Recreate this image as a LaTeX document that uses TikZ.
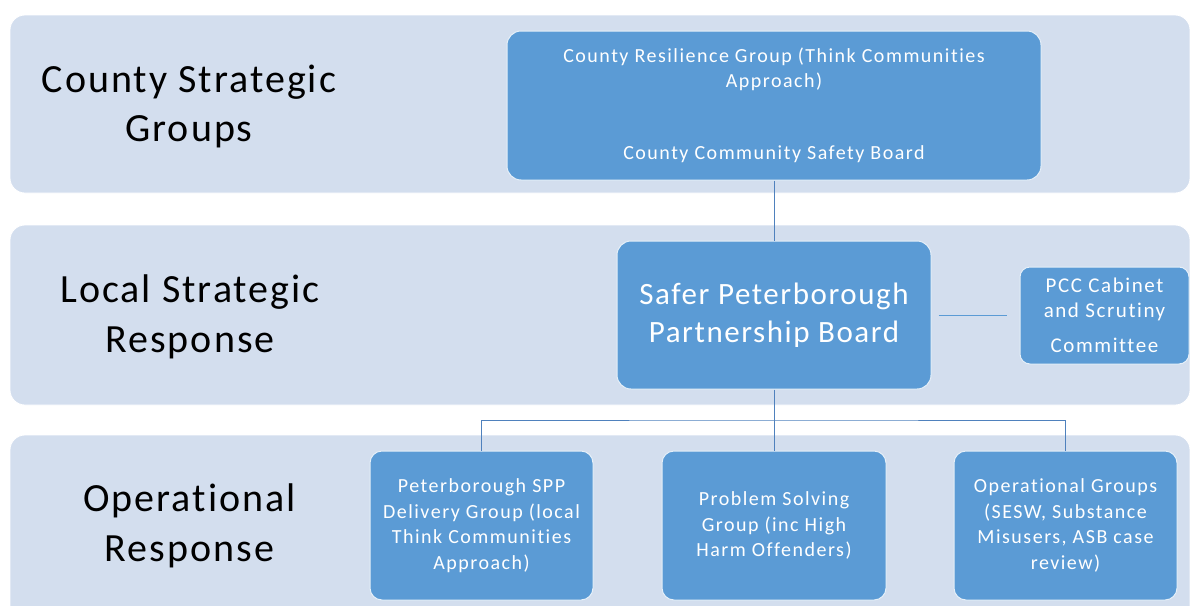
\documentclass[tikz,border=0pt]{standalone}
\usepackage{fontspec}
\setmainfont{Carlito}
\newfontfamily\bigf[LetterSpace=5,Ligatures=NoCommon]{Carlito}
\newfontfamily\smallf[LetterSpace=7.5,Ligatures=NoCommon]{Carlito}
\definecolor{bandfill}{RGB}{211,222,238}
\definecolor{boxfill}{RGB}{91,155,213}
\definecolor{linecol}{RGB}{79,129,189}
\begin{document}
\begin{tikzpicture}[x=1pt,y=-1pt,
  band/.style={draw=white, line width=0.8pt, fill=bandfill, rounded corners=15pt, inner sep=0pt},
  bandlabel/.style={align=center, text=black, font=\bigf\fontsize{40}{49.5}\selectfont, inner sep=0pt},
  orgbox/.style={draw=white!85!boxfill, line width=1pt, fill=boxfill, rounded corners=14pt, inner sep=0pt, text=white, align=center, font=\smallf\fontsize{20}{25.5}\selectfont},
  conn/.style={draw=linecol, line width=1pt}]
\useasboundingbox (0,0) rectangle (1190,605);
\clip (0,0) rectangle (1190,605);
% bands
\node[band, minimum width=1180pt, minimum height=178pt] (b1) at (600,104) {};
\node[band, minimum width=1180pt, minimum height=180pt] (b2) at (600,315) {};
\node[band, minimum width=1180pt, minimum height=190pt] (b3) at (600,530) {};
\node[bandlabel] (l1) at (189,106.5) {County Strategic\\Groups};
\node[bandlabel] (l2) at (190,317) {Local Strategic\\Response};
\node[bandlabel] (l3) at (189.5,526) {Operational\\Response};
% boxes
\node[orgbox, minimum width=534pt, minimum height=149pt] (county) at (774,105.5)
  {County Resilience Group (Think Communities\\Approach)\\[46.5pt]County Community Safety Board};
\node[orgbox, minimum width=314pt, minimum height=148pt, font=\bigf\fontsize{31}{38}\selectfont] (safer) at (774,315)
  {Safer Peterborough\\Partnership Board};
\node[orgbox, minimum width=169pt, minimum height=97pt, rounded corners=10pt, font=\smallf\fontsize{21}{25}\selectfont] (pcc) at (1104.5,315.5)
  {PCC Cabinet\\and Scrutiny\\[10pt]Committee};
\node[orgbox, minimum width=223pt, minimum height=149pt, rounded corners=12pt] (opa) at (481.5,525.5)
  {Peterborough SPP\\Delivery Group (local\\Think Communities\\Approach)};
\node[orgbox, minimum width=224pt, minimum height=149pt, rounded corners=12pt] (opb) at (774,525.5)
  {Problem Solving\\Group (inc High\\Harm Offenders)};
\node[orgbox, minimum width=223pt, minimum height=149pt, rounded corners=12pt] (opc) at (1065.5,525.5)
  {Operational Groups\\(SESW, Substance\\Misusers, ASB case\\review)};
% connectors
\coordinate (bus) at (774,420);
\draw[conn] (county.south) -- (safer.north);
\draw[conn] (safer.south) -- (opb.north);
\draw[conn] (opa.north) |- (bus) -| (opc.north);
\draw[conn, draw=boxfill, shorten <=7pt, shorten >=13pt] (safer.east) -- (safer.east -| pcc.west);
\end{tikzpicture}
\end{document}
